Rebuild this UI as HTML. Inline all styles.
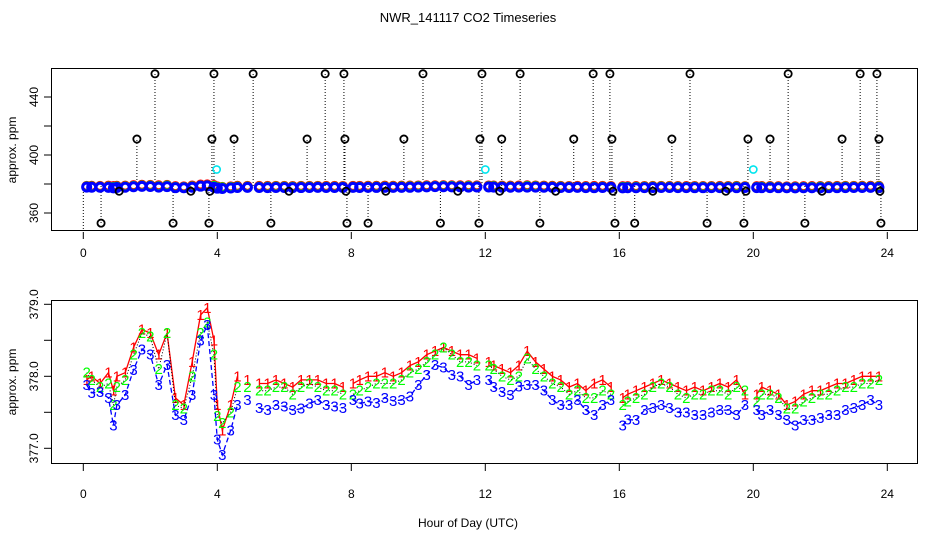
<!DOCTYPE html>
<html><head><meta charset="utf-8"><style>
body{margin:0;background:#fff;}
svg{display:block;font-family:"Liberation Sans",sans-serif;}
</style></head><body>
<svg id="chart" width="936" height="540" viewBox="0 0 936 540" xmlns="http://www.w3.org/2000/svg">
<text x="468" y="22" font-size="13" text-anchor="middle">NWR_141117  CO2 Timeseries</text>
<rect x="51.5" y="68.5" width="866" height="162" fill="none" stroke="#000"/>
<rect x="51.5" y="300.5" width="866" height="163" fill="none" stroke="#000"/>
<text transform="translate(16,150) rotate(-90)" font-size="12" text-anchor="middle">approx. ppm</text>
<text transform="translate(16,382) rotate(-90)" font-size="12" text-anchor="middle">approx. ppm</text>
<text x="468" y="527" font-size="12" text-anchor="middle">Hour of Day (UTC)</text>
<g id="layer"></g>
</svg>
<script>
const xTicks=[0,4,8,12,16,20,24];
const topYTicks=[360,380,400,420,440];
const topYLabels=["360","","400","","440"];
const botYTicks=[377.0,377.5,378.0,378.5,379.0];
const botYLabels=["377.0","","378.0","","379.0"];
const hours=[0.1,0.25,0.5,0.75,0.9,1.0,1.25,1.5,1.75,2.0,2.25,2.5,2.75,3.0,3.25,3.5,3.7,3.9,4.0,4.15,4.4,4.6,4.9,5.25,5.5,5.75,6.0,6.25,6.5,6.75,7.0,7.25,7.5,7.75,8.05,8.25,8.5,8.75,9.0,9.25,9.5,9.75,10.0,10.25,10.5,10.75,11.0,11.25,11.5,11.75,12.1,12.25,12.5,12.75,13.0,13.25,13.5,13.75,14.0,14.25,14.5,14.75,15.0,15.25,15.5,15.75,16.1,16.25,16.5,16.75,17.0,17.25,17.5,17.75,18.0,18.25,18.5,18.75,19.0,19.25,19.5,19.75,20.1,20.25,20.5,20.75,21.0,21.25,21.5,21.75,22.0,22.25,22.5,22.75,23.0,23.25,23.5,23.75];
const series1=[377.95,378.0,377.9,378.05,377.8,378.0,378.05,378.4,378.65,378.6,378.3,378.6,377.7,377.6,378.2,378.85,378.95,378.5,377.6,377.25,377.6,378.0,377.95,377.9,377.9,377.95,377.9,377.85,377.95,377.95,377.95,377.9,377.9,377.85,377.9,377.95,378.0,378.0,378.05,378.0,378.05,378.15,378.2,378.3,378.35,378.4,378.35,378.3,378.3,378.25,378.2,378.15,378.1,378.05,378.15,378.35,378.2,378.1,378.0,377.95,377.85,377.9,377.8,377.9,377.95,377.85,377.7,377.75,377.8,377.85,377.9,377.95,377.9,377.85,377.8,377.85,377.8,377.85,377.9,377.85,377.95,377.75,377.75,377.85,377.8,377.75,377.6,377.65,377.75,377.8,377.8,377.85,377.9,377.9,377.95,378.0,378.0,378.0];
const series2=[378.05,377.95,377.85,377.9,377.6,377.85,377.95,378.3,378.6,378.55,378.1,378.6,377.6,377.55,378.0,378.6,378.75,378.3,377.45,377.35,377.5,377.85,377.85,377.8,377.8,377.85,377.85,377.75,377.85,377.9,377.85,377.8,377.8,377.75,377.75,377.8,377.85,377.9,377.9,377.9,377.95,378.05,378.1,378.2,378.3,378.4,378.3,378.2,378.2,378.15,378.15,378.1,378.0,377.95,378.0,378.25,378.1,378.0,377.9,377.85,377.75,377.8,377.7,377.7,377.8,377.75,377.6,377.65,377.7,377.75,377.85,377.9,377.85,377.75,377.7,377.75,377.75,377.8,377.8,377.75,377.85,377.8,377.65,377.75,377.75,377.7,377.55,377.55,377.65,377.7,377.75,377.75,377.8,377.85,377.85,377.9,377.9,377.95];
const series3=[377.88,377.77,377.78,377.70,377.32,377.60,377.74,378.09,378.37,378.30,377.88,378.16,377.46,377.39,377.74,378.50,378.71,377.74,377.12,376.91,377.25,377.60,377.67,377.56,377.53,377.60,377.58,377.53,377.55,377.62,377.67,377.60,377.58,377.56,377.67,377.62,377.65,377.63,377.70,377.66,377.67,377.72,377.88,378.02,378.16,378.12,378.02,378.0,377.88,377.95,377.95,377.85,377.78,377.74,377.86,377.88,377.88,377.80,377.67,377.60,377.60,377.67,377.53,377.46,377.60,377.67,377.32,377.40,377.39,377.53,377.56,377.60,377.56,377.50,377.50,377.46,377.46,377.50,377.53,377.53,377.46,377.60,377.53,377.46,377.53,377.46,377.39,377.32,377.39,377.39,377.42,377.46,377.46,377.53,377.56,377.60,377.67,377.60];
const flagHours456=[2.14,3.90,5.07,7.22,7.78,10.14,11.90,13.04,15.22,15.72,18.11,21.04,23.19,23.69];
const flagHours411=[1.60,3.84,4.50,6.68,7.81,9.57,11.84,12.49,14.64,15.78,17.57,19.84,20.50,22.65,23.75];
const flagHours375=[1.07,3.21,3.78,6.14,7.84,9.03,11.18,12.43,14.10,15.81,17.00,19.18,19.78,22.05,23.78];
const flagHours353=[0.53,2.68,3.75,5.60,7.87,8.50,10.66,11.81,13.63,15.87,16.46,18.62,19.72,21.54,23.81];
const calHours=[3.98,12.0,20.0];
const calValues=[390,390,390];
const baseline=378.6;

const NS="http://www.w3.org/2000/svg";
const layer=document.getElementById('layer');
const X=h=>83.3+33.5*h;
const YT=v=>97-(v-440)*1.45;
const YB=v=>304.3-(v-379)*72;
function mk(tag,attrs,parent){const e=document.createElementNS(NS,tag);for(const k in attrs)e.setAttribute(k,attrs[k]);(parent||layer).appendChild(e);return e;}

[[232,253],[464,494]].forEach(([ty,ly])=>{
  xTicks.forEach(t=>{
    const l=mk('line',{x1:X(t),x2:X(t),y1:ty,y2:ty+7,stroke:'#000'});
    
    
    const tx=mk('text',{x:X(t),y:ly+4,'font-size':12,'text-anchor':'middle'});
    tx.textContent=t;
    
    
  });
});
topYTicks.forEach((v,i)=>{
  const l=mk('line',{x1:44,x2:51,y1:YT(v),y2:YT(v),stroke:'#000'});
  
  
  if(topYLabels[i]){const t=mk('text',{transform:`translate(38,${YT(v)}) rotate(-90)`,'font-size':12,'text-anchor':'middle'});t.textContent=topYLabels[i];
  
  }
});
botYTicks.forEach((v,i)=>{
  const l=mk('line',{x1:44,x2:51,y1:YB(v),y2:YB(v),stroke:'#000'});
  
  
  if(botYLabels[i]){const t=mk('text',{transform:`translate(38,${YB(v)}) rotate(-90)`,'font-size':12,'text-anchor':'middle'});t.textContent=botYLabels[i];
  
  }
});

function flags(arr,val){arr.forEach(h=>{
  const l=mk('line',{x1:X(h),x2:X(h),y1:YT(baseline),y2:YT(val),stroke:'#000','stroke-dasharray':'1,2'});
  
  
});}
flags(flagHours456,456);flags(flagHours411,411);flags(flagHours375,375);flags(flagHours353,353);
const z=mk('line',{x1:X(0),x2:X(0),y1:YT(baseline),y2:230,stroke:'#000','stroke-dasharray':'1,2'});


// top band
[[series1,'#f00',0.8],[series2,'#0f0',0.4],[series3,'#00f',0]].forEach(([s,col,off])=>{
  hours.forEach((h,i)=>{
    const c=mk('circle',{cx:X(h),cy:YT(s[i]+off),r:4,fill:'none',stroke:col,'stroke-width':(col==='#00f'?3:2)});
    
    
  });
});
function dots(arr,val){arr.forEach(h=>{
  const c=mk('circle',{cx:X(h),cy:YT(val),r:3.6,fill:'none',stroke:'#000','stroke-width':1.8});
  
  
});}
dots(flagHours456,456);dots(flagHours411,411);dots(flagHours375,375);dots(flagHours353,353);
calHours.forEach((h,i)=>{
  const c=mk('circle',{cx:X(h),cy:YT(calValues[i]),r:3.6,fill:'none',stroke:'#00e5ee','stroke-width':1.6});
  
  
});

function segs(){const out=[];let cur=[];hours.forEach((h,i)=>{if(i>0&&h-hours[i-1]>0.3){out.push(cur);cur=[];}cur.push(i);});out.push(cur);return out;}
[[series1,'#f00','1','none'],[series2,'#0f0','2','1,2'],[series3,'#00f','3','5,3']].forEach(([s,col,lab,dash],si)=>{
  segs().forEach(idx=>{
    const p=mk('polyline',{points:idx.map(i=>X(hours[i])+','+YB(s[i])).join(' '),fill:'none',stroke:si==1?'#000':col,'stroke-width':si==1?1:1.3,'stroke-dasharray':dash});
    
    
  });
  hours.forEach((h,i)=>{
    const t=mk('text',{x:X(h),y:YB(s[i])+5,'font-size':15,'text-anchor':'middle',fill:col});
    t.textContent=lab;
    
    
  });
});
</script>
</body></html>
